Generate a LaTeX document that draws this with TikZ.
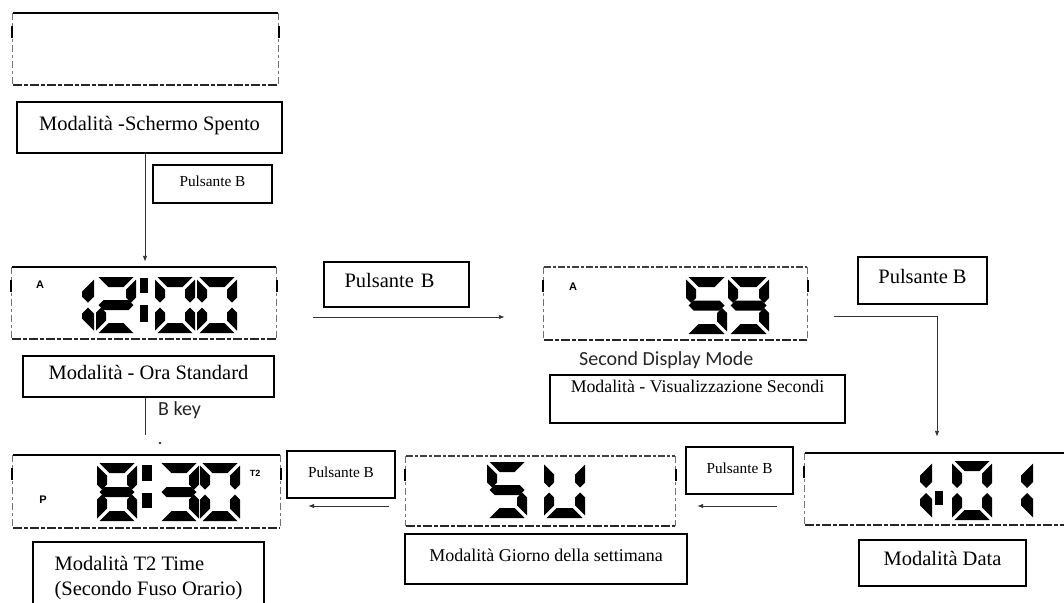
\documentclass[tikz,border=0pt]{standalone}
\usepackage{fontspec}
\setmainfont{Liberation Serif}
\newfontfamily\calfont{Carlito}
\newfontfamily\lcdfont{Liberation Sans}
\usetikzlibrary{arrows.meta}

\def\dW{40}\def\dH{56}\def\dT{10}\def\dG{2.5}
\newcommand\lcdsega{\fill (\dG,0) -- ({\dW-\dG},0) -- ({\dW-\dG-\dT},\dT) -- ({\dG+\dT},\dT) -- cycle;}
\newcommand\lcdsegd{\fill (\dG,\dH) -- ({\dW-\dG},\dH) -- ({\dW-\dG-\dT},{\dH-\dT}) -- ({\dG+\dT},{\dH-\dT}) -- cycle;}
\newcommand\lcdsegf{\fill (0,\dG) -- (\dT,{\dG+\dT}) -- (\dT,{\dH/2-\dG-\dT/2}) -- ({\dT/2},{\dH/2-\dG}) -- (0,{\dH/2-\dG-\dT/2}) -- cycle;}
\newcommand\lcdsege{\fill (0,{\dH-\dG}) -- (\dT,{\dH-\dG-\dT}) -- (\dT,{\dH/2+\dG+\dT/2}) -- ({\dT/2},{\dH/2+\dG}) -- (0,{\dH/2+\dG+\dT/2}) -- cycle;}
\newcommand\lcdsegb{\fill (\dW,\dG) -- ({\dW-\dT},{\dG+\dT}) -- ({\dW-\dT},{\dH/2-\dG-\dT/2}) -- ({\dW-\dT/2},{\dH/2-\dG}) -- (\dW,{\dH/2-\dG-\dT/2}) -- cycle;}
\newcommand\lcdsegc{\fill (\dW,{\dH-\dG}) -- ({\dW-\dT},{\dH-\dG-\dT}) -- ({\dW-\dT},{\dH/2+\dG+\dT/2}) -- ({\dW-\dT/2},{\dH/2+\dG}) -- (\dW,{\dH/2+\dG+\dT/2}) -- cycle;}
\newcommand\lcdsegg{\fill (\dG,{\dH/2}) -- ({\dG+\dT/2},{\dH/2-\dT/2}) -- ({\dW-\dG-\dT/2},{\dH/2-\dT/2}) -- ({\dW-\dG},{\dH/2}) -- ({\dW-\dG-\dT/2},{\dH/2+\dT/2}) -- ({\dG+\dT/2},{\dH/2+\dT/2}) -- cycle;}
\newcommand\lcddigit[3]{\begin{scope}[shift={(#1,#2)}]\foreach \s in {#3}{\csname lcdseg\s\endcsname}\end{scope}}

\newcommand\lcdframe[2]{%
  \draw[#2] (#1.north west) -- (#1.north east);
  \draw[sideedge] (#1.north west) -- (#1.south west);
  \draw[sideedge] (#1.north east) -- (#1.south east);
  \draw[bottomedge] (#1.south west) -- (#1.south east);
  \draw[line width=2pt] ([xshift=-1pt,yshift=-13pt]#1.north west) -- ([xshift=-1pt,yshift=-25pt]#1.north west);
  \draw[line width=2pt] ([xshift=1pt,yshift=-13pt]#1.north east) -- ([xshift=1pt,yshift=-25pt]#1.north east);
}

\tikzset{
  lbl/.style={draw=black, line width=1.2pt, inner sep=0pt, text height=0.72em, text depth=0.22em, fill=white},
  big/.style={font=\fontsize{20.5}{24.6}\selectfont},
  small/.style={font=\fontsize{15.3}{18}\selectfont},
  arr/.style={draw=black!80, line width=0.9pt, -{Latex[length=6pt,width=4.5pt]}},
  conn/.style={draw=black!80, line width=0.9pt},
  disp/.style={inner sep=0pt, draw=none},
  dashedge/.style={draw=black!75, line width=1.4pt, dash pattern=on 7pt off 2pt on 3pt off 2pt},
  sideedge/.style={draw=black!55, line width=1.2pt, dash pattern=on 7pt off 3pt on 3pt off 3pt},
  bottomedge/.style={draw=black!85, line width=1.6pt, dash pattern=on 9pt off 2pt on 4pt off 2pt},
  solidedge/.style={draw=black, line width=2pt},
  ind/.style={font=\lcdfont\bfseries\fontsize{11}{12}\selectfont, inner sep=0pt},
  sans/.style={font=\calfont\fontsize{20}{24}\selectfont, text=black!85, inner sep=0pt, anchor=west, text height=0.7em, text depth=0.2em},
}

\begin{document}
\begin{tikzpicture}[x=1pt,y=-1pt]
\useasboundingbox (0,0) rectangle (1064,602);

% display frames
\node[disp, minimum width=265pt, minimum height=72pt] (d1) at (145.5,49) {};
\node[disp, minimum width=264pt, minimum height=72pt] (d2) at (144,303) {};
\node[disp, minimum width=263pt, minimum height=73pt] (d3) at (675.5,303.5) {};
\node[disp, minimum width=267pt, minimum height=73pt] (d4) at (146.5,491.5) {};
\node[disp, minimum width=269pt, minimum height=70pt] (d5) at (540.5,491) {};
\node[disp, minimum width=270pt, minimum height=72pt] (d6) at (940,489) {};
\lcdframe{d1}{solidedge}
\lcdframe{d2}{solidedge}
\lcdframe{d3}{dashedge}
\lcdframe{d4}{solidedge}
\lcdframe{d5}{dashedge}
\lcdframe{d6}{solidedge}

% 12:00
\begin{scope}
\def\dT{12}\lcddigit{54}{277}{b,c}
\end{scope}
\lcddigit{96}{277}{a,b,g,e,d}
\fill (140,278) rectangle (148,293);
\fill (140,305) rectangle (148,322);
\lcddigit{155}{277}{a,b,c,d,e,f}
\lcddigit{197}{277}{a,b,c,d,e,f}
\node[ind] (ia1) at (40,285) {A};

% 59
\begin{scope}
\def\dH{57}\def\dW{41}
\lcddigit{686}{277}{a,f,g,c,d}
\lcddigit{728}{277}{a,b,c,d,f,g}
\end{scope}
\node[ind] (ia2) at (573,287) {A};

% 8:30
\begin{scope}
\def\dH{58}
\lcddigit{97}{463}{a,b,c,d,e,f,g}
\fill (142,465) rectangle (152,481);
\fill (142,493) rectangle (152,508);
\lcddigit{159}{463}{a,b,g,c,d}
\lcddigit{200}{463}{a,b,c,d,e,f}
\end{scope}
\node[ind] (ip) at (43,500) {P};
\node[ind, font=\lcdfont\bfseries\fontsize{9}{10}\selectfont] (it2) at (255,473) {T2};

% SU
\lcddigit{487}{462}{a,f,g,c,d}
\begin{scope}
\def\dW{41}
\lcddigit{544}{462}{b,c,d,e,f}
\end{scope}

% 1:01
\begin{scope}
\def\dH{59}
\begin{scope}\def\dT{12}\lcddigit{892}{461}{b,c}\end{scope}
\fill (935,491) rectangle (943,505);
\lcddigit{952}{461}{a,b,c,d,e,f}
\begin{scope}\def\dT{12}\lcddigit{993}{461}{b,c}\end{scope}
\end{scope}

% labels
\node[lbl,big,minimum width=265pt,minimum height=51pt] (offlbl) at (149.5,127.5) {Modalità -Schermo Spento};
\node[lbl,small,minimum width=119pt,minimum height=38pt] (pb1) at (212.5,184) {Pulsante B};
\node[lbl,big,minimum width=251pt,minimum height=41pt] (stdlbl) at (148.5,376.5) {Modalità - Ora Standard};
\node[lbl,big,minimum width=145pt,minimum height=45pt,text width=130pt,inner xsep=7.5pt,align=left] (pb2) at (396.5,284.5) {\hspace*{13pt}Pulsante B};
\node[lbl,font=\fontsize{17.8}{21}\selectfont,minimum width=295pt,minimum height=48pt,text height=17pt,text depth=31pt] (seclbl) at (697.5,399) {Modalità - Visualizzazione Secondi};
\node[lbl,big,minimum width=129pt,minimum height=47pt] (pb3) at (922.5,280.5) {Pulsante B};
\node[lbl,big,minimum width=167pt,minimum height=46pt] (datelbl) at (942.5,563) {Modalità Data};
\node[lbl,small,minimum width=107pt,minimum height=47pt] (pb4) at (739.5,470.5) {Pulsante B};
\node[lbl,font=\fontsize{18}{21.6}\selectfont,minimum width=282pt,minimum height=50pt] (daylbl) at (546,559) {Modalità Giorno della settimana};
\node[lbl,small,minimum width=108pt,minimum height=47pt] (pb5) at (341,474.5) {Pulsante B};
\node[draw=black,line width=1.2pt,big,inner xsep=0pt,inner ysep=0pt,align=left,minimum width=231pt,minimum height=72pt] (t2lbl) at (148.5,578) {Modalità T2 Time\\(Secondo Fuso Orario)};

\node[sans] (bkey) at (158,413) {B key};
\node[sans] (sdm) at (579,363) {Second Display Mode};

% connectors
\coordinate (c1) at (145,0);
\draw[arr] (offlbl.south -| c1) -- ([yshift=5pt]d2.north -| c1);
\coordinate (e1) at (145,435);
\draw[conn] (stdlbl.south -| c1) -- (e1);
\fill[black!80] (160,443) circle (1.3pt);

\coordinate (r1) at (0,317);
\draw[arr] ([xshift=37pt]d2.east |- r1) -- ([xshift=-39pt]d3.west |- r1);
\coordinate (r2) at (937,316);
\draw[arr] ([xshift=27pt]d3.east |- r2) -| ([yshift=16pt]d6.north -| r2);
\coordinate (r3) at (0,506);
\draw[arr] ([xshift=-28pt]d6.west |- r3) -- ([xshift=22pt]d5.east |- r3);
\draw[arr] ([xshift=-17pt]d5.west |- r3) -- ([xshift=28pt]d4.east |- r3);
\end{tikzpicture}
\end{document}
